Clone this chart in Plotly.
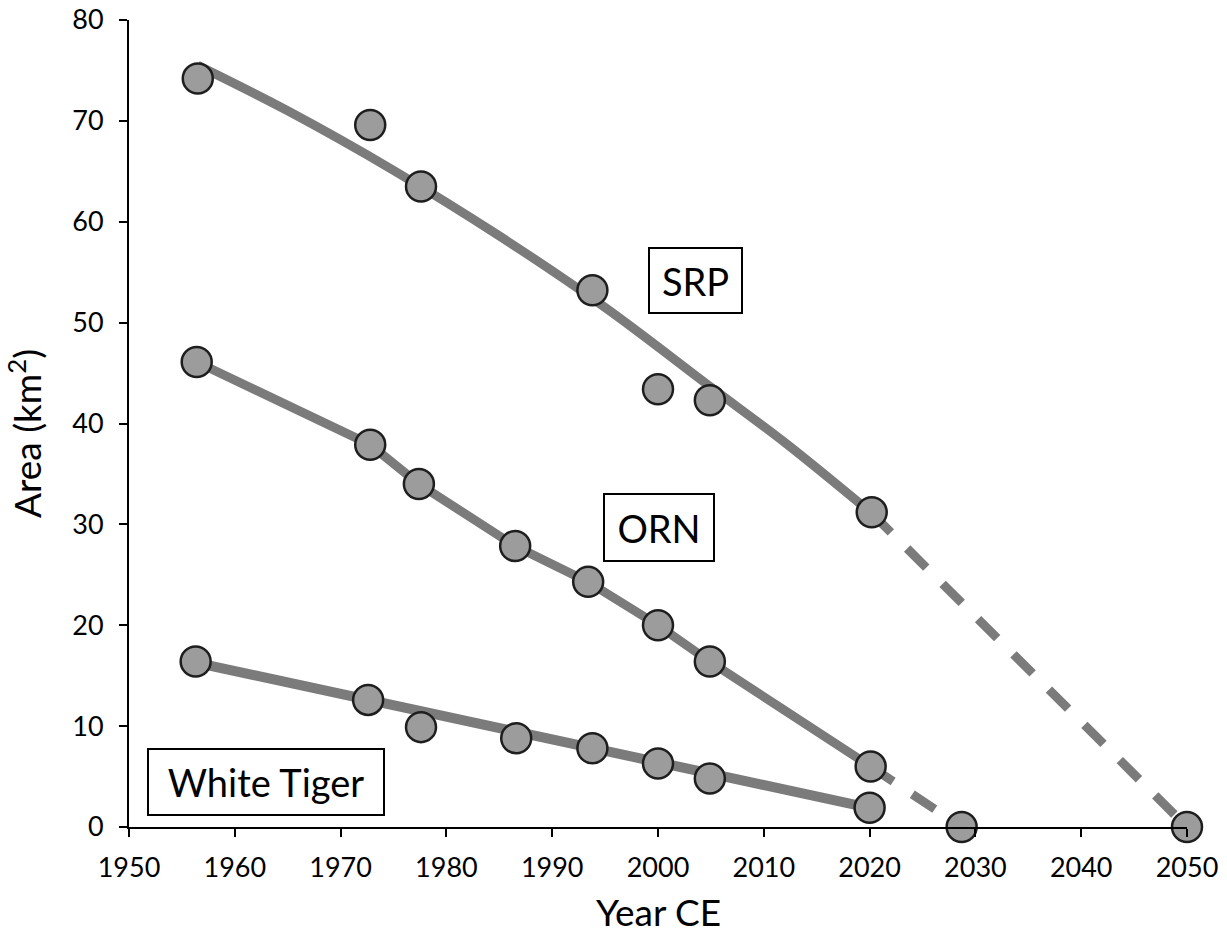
import plotly.graph_objects as go

# Measured area (km²) by year
srp_years = [1956.5, 1972.8, 1977.6, 1993.8, 2000.0, 2004.9, 2020.2]
srp_area = [74.2, 69.6, 63.5, 53.2, 43.4, 42.3, 31.2]

orn_years = [1956.4, 1972.8, 1977.4, 1986.5, 1993.4, 2000.0, 2004.9, 2020.1]
orn_area = [46.1, 37.9, 34.0, 27.85, 24.3, 20.0, 16.4, 6.0]

wt_years = [1956.3, 1972.6, 1977.6, 1986.6, 1993.8, 2000.0, 2004.9, 2020.0]
wt_area = [16.4, 12.6, 9.9, 8.8, 7.8, 6.3, 4.8, 1.9]

# Projected years of disappearance
zero_years = [2028.7, 2050.0]
zero_area = [0.0, 0.0]

# SRP trend curve and its projection
srp_trend_years = [1956.5, 1965.0, 1975.0, 1985.0, 1995.0, 2005.0, 2012.0, 2020.2]
srp_trend_area = [75.5, 71.0, 65.1, 58.6, 51.5, 43.6, 38.1, 31.1]
srp_proj_years = [2020.2, 2050.0]
srp_proj_area = [31.1, 0.0]

# ORN projection
orn_proj_years = [2020.1, 2028.7]
orn_proj_area = [6.0, 0.0]

# White Tiger trend
wt_trend_years = [1956.3, 2020.0]
wt_trend_area = [16.3, 1.9]

x_ticks = [1950, 1960, 1970, 1980, 1990, 2000, 2010, 2020, 2030, 2040, 2050]
y_ticks = [0, 10, 20, 30, 40, 50, 60, 70, 80]

LINE = "#7b7b7b"
FILL = "#9c9c9c"
EDGE = "#1e1e1e"
FONT = "Lato"
LW = 9
DASH = "27px,23px"

fig = go.Figure()


def add_line(xs, ys, dash="solid", shape="linear", width=LW):
    fig.add_trace(go.Scatter(
        x=xs, y=ys, mode="lines", line=dict(color=LINE, width=width, dash=dash, shape=shape),
        hoverinfo="skip", showlegend=False, cliponaxis=False))


def add_points(xs, ys):
    fig.add_trace(go.Scatter(
        x=xs, y=ys, mode="markers",
        marker=dict(size=30, color=FILL, line=dict(color=EDGE, width=2.5)),
        showlegend=False, cliponaxis=False))


add_line(srp_trend_years, srp_trend_area, shape="spline")
add_line(srp_proj_years, srp_proj_area, dash=DASH)
add_line(orn_years, orn_area)
add_line(orn_proj_years, orn_proj_area, dash=DASH)
add_line(wt_trend_years, wt_trend_area, width=10)

add_points(srp_years, srp_area)
add_points(orn_years, orn_area)
add_points(wt_years, wt_area)
add_points(zero_years, zero_area)


def label(text, x, y, w, h):
    fig.add_annotation(
        x=x, y=y, xref="x", yref="y", text=text, showarrow=False,
        font=dict(family=FONT, size=38, color="black"),
        bordercolor="black", borderwidth=2, borderpad=0,
        bgcolor="white", width=w, height=h, align="center", valign="middle")


label("SRP", 2003.5, 54.2, 91, 63)
label("ORN", 2000.05, 29.7, 108, 65)
label("White Tiger", 1962.96, 4.47, 234, 64)

fig.add_annotation(
    x=0.5, y=-0.105, xref="paper", yref="paper", yanchor="middle",
    text="Year CE", showarrow=False,
    font=dict(family=FONT, size=37, color="black"))
fig.add_annotation(
    x=-0.073, y=0.488, xref="paper", yref="paper", xanchor="right",
    text="Area (km<sup>2</sup>)", showarrow=False, textangle=-90,
    font=dict(family=FONT, size=37, color="black"))

axis_common = dict(
    showgrid=False, zeroline=False, showline=True, linecolor="black", linewidth=2,
    ticks="outside", ticklen=8, tickwidth=2, tickcolor="black", automargin=False,
    tickfont=dict(family=FONT, size=27, color="black"))

fig.update_xaxes(range=[1950, 2050], tickvals=x_ticks, ticktext=[str(v) for v in x_ticks],
                 ticklabelstandoff=8, **axis_common)
fig.update_yaxes(range=[0, 80], tickvals=y_ticks, ticktext=[str(v) for v in y_ticks],
                 ticklabelstandoff=10, **axis_common)

fig.update_layout(
    width=1227, height=936,
    margin=dict(l=129, r=40, t=20, b=109),
    plot_bgcolor="white", paper_bgcolor="white",
    font=dict(family=FONT),
)

fig.write_html("out.html")
